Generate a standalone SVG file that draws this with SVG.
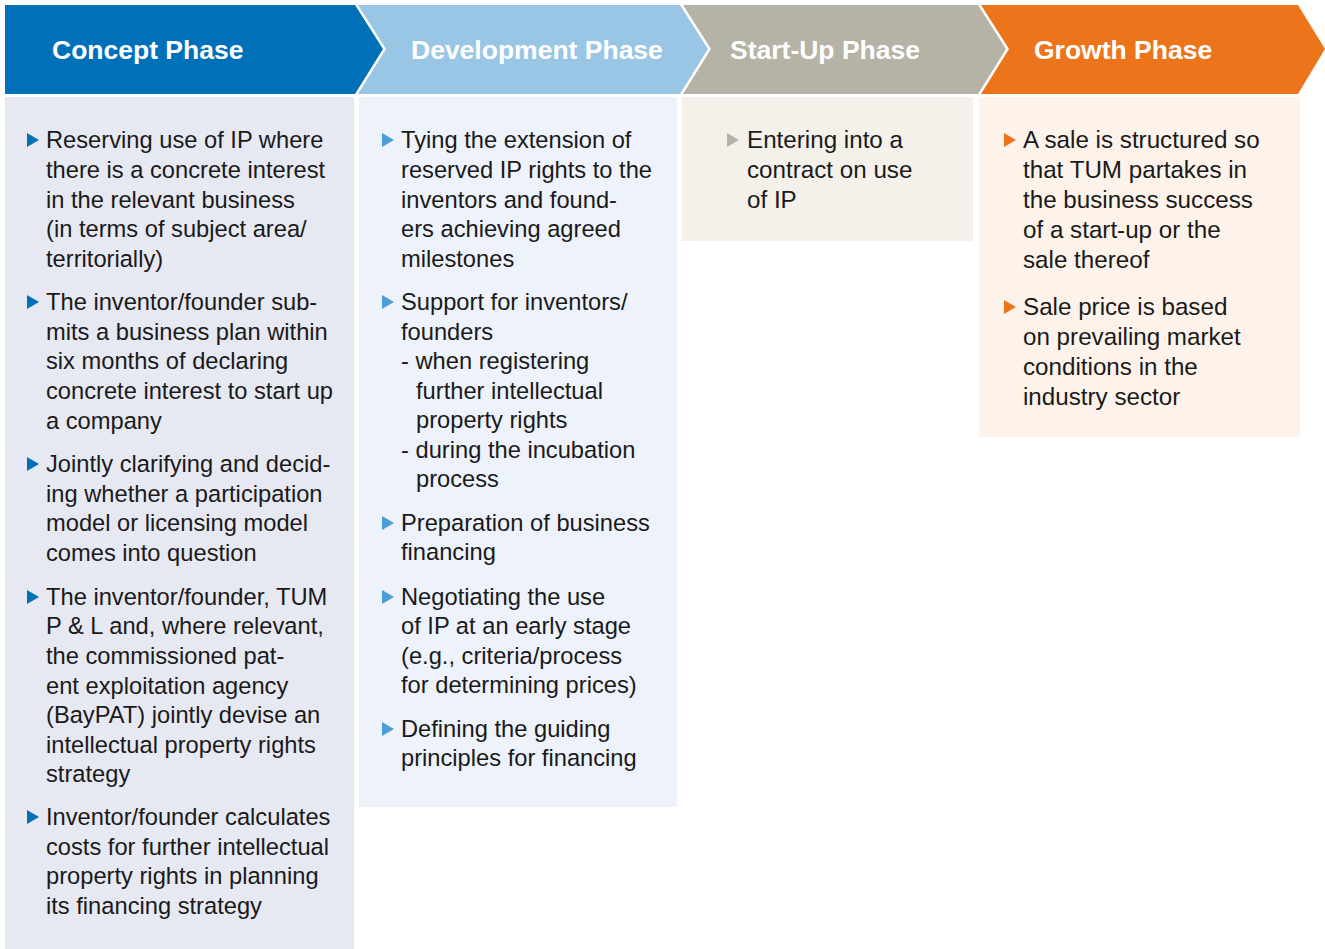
<svg xmlns="http://www.w3.org/2000/svg" width="1325" height="949" viewBox="0 0 1325 949">
<style>
.h{font-family:"Liberation Sans",Arial,sans-serif;font-weight:bold;font-size:26.5px;fill:#fff}
.t{font-family:"Liberation Sans",Arial,sans-serif;font-size:23.7px;fill:#1a1a1a}
.w{font-size:24.2px}
</style>
<defs>
<path id="tri" d="M0,-7 L12,0 L0,7 Z"/>
</defs>
<rect width="1325" height="949" fill="#fff"/>
<g id="concept">
<polygon points="5,5 355,5 383,49 355,94 5,94" fill="#0070B8"/>
<text class="h" x="52" y="59">Concept Phase</text>
<rect x="5" y="97" width="349" height="852" fill="#E6E8F2"/>
<g fill="#0070B8">
<use href="#tri" x="27" y="140"/><use href="#tri" x="27" y="302"/><use href="#tri" x="27" y="464"/><use href="#tri" x="27" y="597"/><use href="#tri" x="27" y="817"/>
</g>
<text class="t">
<tspan x="46" y="148">Reserving use of IP where</tspan>
<tspan x="46" y="178">there is a concrete interest</tspan>
<tspan x="46" y="208">in the relevant business</tspan>
<tspan x="46" y="237">(in terms of subject area/</tspan>
<tspan x="46" y="267">territorially)</tspan>
<tspan x="46" y="310">The inventor/founder sub-</tspan>
<tspan x="46" y="340">mits a business plan within</tspan>
<tspan x="46" y="369">six months of declaring</tspan>
<tspan x="46" y="399">concrete interest to start up</tspan>
<tspan x="46" y="429">a company</tspan>
<tspan x="46" y="472">Jointly clarifying and decid-</tspan>
<tspan x="46" y="502">ing whether a participation</tspan>
<tspan x="46" y="531">model or licensing model</tspan>
<tspan x="46" y="561">comes into question</tspan>
<tspan x="46" y="605">The inventor/founder, TUM</tspan>
<tspan x="46" y="634">P &amp; L and, where relevant,</tspan>
<tspan x="46" y="664">the commissioned pat-</tspan>
<tspan x="46" y="694">ent exploitation agency</tspan>
<tspan x="46" y="723">(BayPAT) jointly devise an</tspan>
<tspan x="46" y="753">intellectual property rights</tspan>
<tspan x="46" y="782">strategy</tspan>
<tspan x="46" y="825">Inventor/founder calculates</tspan>
<tspan x="46" y="855">costs for further intellectual</tspan>
<tspan x="46" y="884">property rights in planning</tspan>
<tspan x="46" y="914">its financing strategy</tspan>
</text>
</g>
<g id="development">
<polygon points="358,5 680,5 708,49 680,94 358,94 386,49" fill="#9AC6E6"/>
<text class="h" x="411" y="59">Development Phase</text>
<rect x="359" y="97" width="318" height="710" fill="#EEF2FA"/>
<g fill="#4A9FD8">
<use href="#tri" x="382" y="140"/><use href="#tri" x="382" y="302"/><use href="#tri" x="382" y="523"/><use href="#tri" x="382" y="597"/><use href="#tri" x="382" y="729"/>
</g>
<text class="t">
<tspan x="401" y="148">Tying the extension of</tspan>
<tspan x="401" y="178">reserved IP rights to the</tspan>
<tspan x="401" y="208">inventors and found-</tspan>
<tspan x="401" y="237">ers achieving agreed</tspan>
<tspan x="401" y="267">milestones</tspan>
<tspan x="401" y="310">Support for inventors/</tspan>
<tspan x="401" y="340">founders</tspan>
<tspan x="401" y="369">- when registering</tspan>
<tspan x="416" y="399">further intellectual</tspan>
<tspan x="416" y="428">property rights</tspan>
<tspan x="401" y="458">- during the incubation</tspan>
<tspan x="416" y="487">process</tspan>
<tspan x="401" y="531">Preparation of business</tspan>
<tspan x="401" y="560">financing</tspan>
<tspan x="401" y="605">Negotiating the use</tspan>
<tspan x="401" y="634">of IP at an early stage</tspan>
<tspan x="401" y="664">(e.g., criteria/process</tspan>
<tspan x="401" y="693">for determining prices)</tspan>
<tspan x="401" y="737">Defining the guiding</tspan>
<tspan x="401" y="766">principles for financing</tspan>
</text>
</g>
<g id="startup">
<polygon points="683,5 978,5 1006,49 978,94 683,94 711,49" fill="#B5B2A6"/>
<text class="h" x="730" y="59">Start-Up Phase</text>
<rect x="682" y="97" width="291" height="144" fill="#F3F1EA"/>
<g fill="#B5B2A6"><use href="#tri" x="727" y="140"/></g>
<text class="t w">
<tspan x="747" y="148">Entering into a</tspan>
<tspan x="747" y="178">contract on use</tspan>
<tspan x="747" y="208">of IP</tspan>
</text>
</g>
<g id="growth">
<polygon points="981,5 1298,5 1325,49 1298,94 981,94 1009,49" fill="#EC751C"/>
<text class="h" x="1034" y="59">Growth Phase</text>
<rect x="979" y="97" width="321" height="340" fill="#FDF3EA"/>
<g fill="#EC751C"><use href="#tri" x="1004" y="140"/><use href="#tri" x="1004" y="307"/></g>
<text class="t w">
<tspan x="1023" y="148">A sale is structured so</tspan>
<tspan x="1023" y="178">that TUM partakes in</tspan>
<tspan x="1023" y="208">the business success</tspan>
<tspan x="1023" y="238">of a start-up or the</tspan>
<tspan x="1023" y="268">sale thereof</tspan>
<tspan x="1023" y="315">Sale price is based</tspan>
<tspan x="1023" y="345">on prevailing market</tspan>
<tspan x="1023" y="375">conditions in the</tspan>
<tspan x="1023" y="405">industry sector</tspan>
</text>
</g>
<g id="connectors"/>
</svg>
